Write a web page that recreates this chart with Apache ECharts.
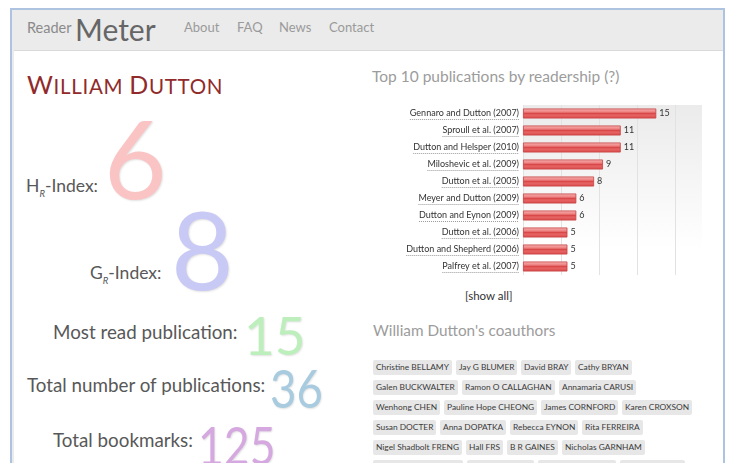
<!DOCTYPE html>
<html>
<head>
<meta charset="utf-8">
<title>ReaderMeter - William Dutton</title>
<script src="https://cdn.jsdelivr.net/npm/echarts@6/dist/echarts.min.js"></script>
<style>
  html, body { margin: 0; padding: 0; background: #fff; }
  body { width: 729px; height: 463px; overflow: hidden; position: relative; font-family: Lato, 'Open Sans', sans-serif; }
  .abs { position: absolute; white-space: nowrap; line-height: 1; }
  #frame { position: absolute; left: 10px; top: 8px; width: 711px; height: 470px; border: 2px solid #adc3df; border-bottom: none; background: #ebebeb; }
  #page { position: absolute; left: 2px; top: 40px; right: 0; bottom: 0; background: #fff; border-top: 1px solid #dadada; }
  .nav { color: #9a9a9a; font-size: 13px; }
  .lbl { color: #585858; }
  .big { line-height: 0.75; text-shadow: 1px 1px 2px rgba(0,0,0,0.12); transform-origin: 0 0; }
  .tag { position: absolute; height: 15px; line-height: 15px; background: #e7e7e7; border-radius: 2px; font-size: 8.4px; color: #3a3a3a; padding: 0 3px; white-space: nowrap; }
  #chart { position: absolute; left: 370px; top: 95px; width: 345px; height: 190px; }
</style>
</head>
<body>
<div id="frame"><div id="page"></div></div>

<div class="abs" style="left:27px;top:21px;font-size:14.5px;color:#8a8a8a">Reader</div>
<div class="abs" style="left:75px;top:14px;font-size:30px;color:#666">Meter</div>
<div class="abs nav" style="left:184px;top:20.5px">About</div>
<div class="abs nav" style="left:237px;top:20.5px">FAQ</div>
<div class="abs nav" style="left:279px;top:20.5px">News</div>
<div class="abs nav" style="left:329px;top:20.5px">Contact</div>

<div class="abs" style="left:27px;top:72px;font-size:25px;color:#912b2b;letter-spacing:0.7px"><span>W</span><span style="font-size:20.5px">ILLIAM </span><span>D</span><span style="font-size:20.5px">UTTON</span></div>

<div class="abs lbl" style="left:26px;top:177px;font-size:17.5px">H<sub style="font-size:9.5px;font-style:italic">R</sub>-Index:</div>
<div class="abs big" id="hIndex" style="left:104px;top:117px;font-size:108px;color:#fbc4c4"></div>
<div class="abs lbl" style="left:90px;top:263.5px;font-size:17.5px">G<sub style="font-size:9.5px;font-style:italic">R</sub>-Index:</div>
<div class="abs big" id="gIndex" style="left:171px;top:208px;font-size:108px;color:#c9c9f5"></div>

<div class="abs lbl" style="left:53px;top:322.6px;font-size:18.8px">Most read publication:</div>
<div class="abs big" id="mostRead" style="left:244px;top:314.6px;font-size:53px;color:#bcefbc"></div>
<div class="abs lbl" style="left:27px;top:376px;font-size:18.8px">Total number of publications:</div>
<div class="abs big" id="totalPubs" style="left:270px;top:368px;font-size:53px;color:#a8cbdf;transform:scaleX(0.86)"></div>
<div class="abs lbl" style="left:53px;top:431px;font-size:18.8px">Total bookmarks:</div>
<div class="abs big" id="totalBookmarks" style="left:198px;top:424.5px;font-size:53px;color:#d5a9e0;transform:scaleX(0.84)"></div>

<div class="abs" style="left:372px;top:68.7px;font-size:15.5px;color:#9c9c9c">Top 10 publications by readership (?)</div>
<div id="chart"></div>
<div class="abs" style="left:465px;top:290px;font-size:11.5px;color:#333">[show all]</div>
<div class="abs" style="left:373px;top:323.4px;font-size:15.3px;color:#9c9c9c">William Dutton's coauthors</div>
<div id="tags"></div>

<script>
// 左侧统计数字
const hIndex = 6
const gIndex = 8
const mostRead = 15
const totalPubs = 36
const totalBookmarks = 125

// 前10篇文献及读者数
const pubs = [
  'Gennaro and Dutton (2007)',
  'Sproull et al. (2007)',
  'Dutton and Helsper (2010)',
  'Miloshevic et al. (2009)',
  'Dutton et al. (2005)',
  'Meyer and Dutton (2009)',
  'Dutton and Eynon (2009)',
  'Dutton et al. (2006)',
  'Dutton and Shepherd (2006)',
  'Palfrey et al. (2007)'
]
const readers = [15, 11, 11, 9, 8, 6, 6, 5, 5, 5]

// 合著者（按行）
const coauthorRows = [
  ['Christine BELLAMY', 'Jay G BLUMER', 'David BRAY', 'Cathy BRYAN'],
  ['Galen BUCKWALTER', 'Ramon O CALLAGHAN', 'Annamaria CARUSI'],
  ['Wenhong CHEN', 'Pauline Hope CHEONG', 'James CORNFORD', 'Karen CROXSON'],
  ['Susan DOCTER', 'Anna DOPATKA', 'Rebecca EYNON', 'Rita FERREIRA'],
  ['Nigel Shadbolt FRENG', 'Hall FRS', 'B R GAINES', 'Nicholas GARNHAM'],
  ['', '', '', '']
]

document.getElementById('hIndex').textContent = hIndex
document.getElementById('gIndex').textContent = gIndex
document.getElementById('mostRead').textContent = mostRead
document.getElementById('totalPubs').textContent = totalPubs
document.getElementById('totalBookmarks').textContent = totalBookmarks

// 标签
const tagBox = document.getElementById('tags')
const lastRowWidths = [84, 61, 72, 59]
coauthorRows.forEach((row, r) => {
  let x = 373
  row.forEach((name, i) => {
    const el = document.createElement('span')
    el.className = 'tag'
    el.textContent = name
    el.style.left = x + 'px'
    el.style.top = (360 + r * 20) + 'px'
    if (!name) el.style.width = lastRowWidths[i] + 'px'
    tagBox.appendChild(el)
    x += el.offsetWidth + 4
  })
})

// 文字宽度测量，用于虚线下划线
const measureCtx = document.createElement('canvas').getContext('2d')
measureCtx.font = '9px Lato'
function textWidth(s) {
  return measureCtx.measureText(s).width
}

const chart = echarts.init(document.getElementById('chart'))

const barColor = new echarts.graphic.LinearGradient(0, 0, 0, 1, [
  { offset: 0, color: '#f7b5b5' },
  { offset: 0.35, color: '#ee8080' },
  { offset: 0.5, color: '#d84848' },
  { offset: 0.65, color: '#e76464' },
  { offset: 1, color: '#d84a4a' }
])

chart.setOption({
  animation: false,
  grid: {
    left: 153,
    top: 10,
    width: 179,
    height: 170,
    show: true,
    borderWidth: 0,
    backgroundColor: new echarts.graphic.LinearGradient(0, 0, 0, 1, [
      { offset: 0, color: '#ebebeb' },
      { offset: 0.85, color: '#ffffff' }
    ])
  },
  xAxis: {
    type: 'value',
    min: 0,
    max: 20.15,
    interval: 4.28,
    axisLabel: { show: false },
    axisLine: { show: false },
    axisTick: { show: false },
    splitLine: { show: true, showMaxLine: false, lineStyle: { color: '#e2e2e2', width: 1 } }
  },
  yAxis: {
    type: 'category',
    data: pubs,
    inverse: true,
    axisLabel: { show: false },
    axisLine: { show: false },
    axisTick: { show: false },
    splitLine: { show: false }
  },
  series: [
    {
      type: 'bar',
      data: readers,
      barWidth: 10,
      itemStyle: { color: barColor, borderColor: '#c84040', borderWidth: 0.8 },
      label: {
        show: true,
        position: 'right',
        distance: 3,
        fontSize: 9,
        fontFamily: 'Lato',
        color: '#333'
      }
    },
    {
      // 分类标签 + 虚线下划线
      type: 'custom',
      silent: true,
      clip: false,
      data: pubs.map((p, i) => [0, i]),
      encode: { x: 0, y: 1 },
      renderItem: (params, api) => {
        const pt = api.coord([0, api.value(1)])
        const name = pubs[params.dataIndex]
        const right = pt[0] - 4
        const w = textWidth(name)
        const uy = Math.round(pt[1] + 5) + 0.5
        return {
          type: 'group',
          children: [
            {
              type: 'text',
              style: {
                text: name,
                x: right,
                y: pt[1],
                align: 'right',
                verticalAlign: 'middle',
                font: '9px Lato',
                fill: '#333'
              }
            },
            {
              type: 'line',
              shape: { x1: right - w, y1: uy, x2: right, y2: uy },
              style: { stroke: '#9a9a9a', lineWidth: 1, lineDash: [1, 1] }
            }
          ]
        }
      }
    }
  ]
})
</script>
</body>
</html>
